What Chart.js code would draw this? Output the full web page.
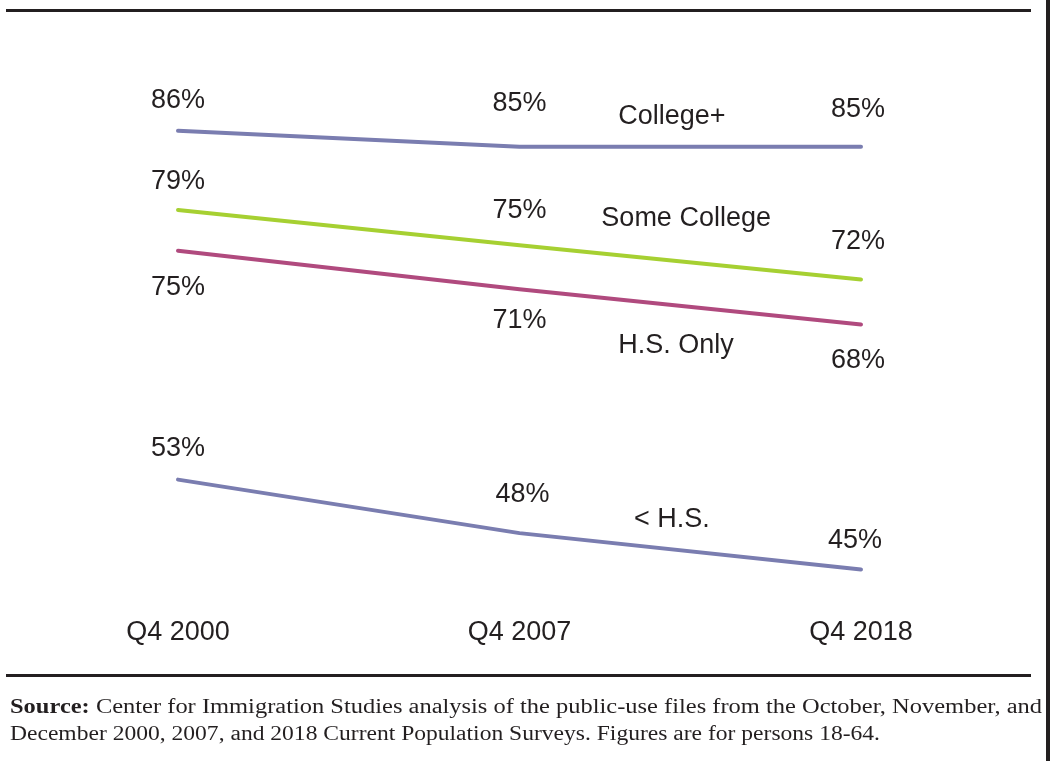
<!DOCTYPE html>
<html>
<head>
<meta charset="utf-8">
<script src="https://cdn.jsdelivr.net/npm/chart.js@4.4.1/dist/chart.umd.min.js"></script>
<style>
  html, body { margin: 0; padding: 0; background: #ffffff; }
  body { width: 1053px; height: 761px; position: relative; overflow: hidden; }
  #wrap { position: absolute; left: 0; top: 0; width: 1053px; height: 761px; }
  .rule { position: absolute; background: #231f20; }
  .src { position: absolute; left: 10px; font-family: "Liberation Serif", "DejaVu Serif", serif;
         font-size: 20px; line-height: 24px; color: #231f20; white-space: nowrap; transform-origin: 0 0; }
  .src b { font-weight: bold; }
</style>
</head>
<body>
<div id="wrap"><canvas id="c"></canvas></div>
<div class="rule" style="left:6px; top:9px; width:1025px; height:3px;"></div>
<div class="rule" style="left:6px; top:674px; width:1025px; height:3px;"></div>
<div class="rule" style="left:1046px; top:0px; width:4px; height:761px;"></div>
<div class="src" id="s1" style="top:694px;"><b>Source:</b> Center for Immigration Studies analysis of the public-use files from the October, November, and</div>
<div class="src" id="s2" style="top:721px;">December 2000, 2007, and 2018 Current Population Surveys. Figures are for persons 18-64.</div>
<script>
// ---- data ----
const categories = ["Q4 2000", "Q4 2007", "Q4 2018"];
const seriesNames = ["College+", "Some College", "H.S. Only", "< H.S."];
const collegePlus = [86.0, 84.5, 84.5];
const someCollege = [78.6, 75.3, 72.1];
const hsOnly = [74.8, 71.2, 67.9];
const lessHS = [53.4, 48.4, 45.0];
const collegePlusLabels = ["86%", "85%", "85%"];
const someCollegeLabels = ["79%", "75%", "72%"];
const hsOnlyLabels = ["75%", "71%", "68%"];
const lessHSLabels = ["53%", "48%", "45%"];

// ---- layout / styling (not data) ----
const colors = ["#7a7db0", "#a6d032", "#b04a7e", "#7a7db0"];
// value label offsets in pixels from each point: [dx, dy]
const labelOffsets = [
  [[0, -32], [0, -45], [-3, -39]],
  [[0, -30], [0, -37], [-3, -40]],
  [[0, 35], [0, 29], [-3, 34]],
  [[0, -33], [3, -41], [-6, -31]]
];
// series name anchor: [fraction along x axis, y value]
const nameAnchors = [[0.723, 87.5], [0.744, 78.0], [0.729, 66.1], [0.723, 49.9]];
const FONT = '27px "Liberation Sans", Arial, Helvetica, sans-serif';
const TEXT = "#231f20";
const TEXT_DY = 2;

const seriesValues = [collegePlus, someCollege, hsOnly, lessHS];
const seriesLabels = [collegePlusLabels, someCollegeLabels, hsOnlyLabels, lessHSLabels];

const textPlugin = {
  id: "textPlugin",
  afterDatasetsDraw(chart) {
    const ctx = chart.ctx;
    const xs = chart.scales.x, ys = chart.scales.y;
    ctx.save();
    ctx.font = FONT;
    ctx.fillStyle = TEXT;
    ctx.textAlign = "center";
    ctx.textBaseline = "middle";
    seriesValues.forEach((vals, si) => {
      vals.forEach((v, i) => {
        const px = xs.getPixelForValue(i), py = ys.getPixelForValue(v);
        const off = labelOffsets[si][i];
        ctx.fillText(seriesLabels[si][i], px + off[0], py + off[1] + TEXT_DY);
      });
      const a = nameAnchors[si];
      const nx = xs.left + a[0] * (xs.right - xs.left);
      ctx.fillText(seriesNames[si], nx, ys.getPixelForValue(a[1]) + TEXT_DY);
    });
    categories.forEach((c, i) => {
      ctx.fillText(c, xs.getPixelForValue(i), 631 + TEXT_DY);
    });
    ctx.restore();
  }
};

new Chart(document.getElementById("c"), {
  type: "line",
  data: {
    labels: categories,
    datasets: seriesValues.map((vals, si) => ({
      label: seriesNames[si],
      data: vals,
      borderColor: colors[si],
      backgroundColor: colors[si],
      borderWidth: 4,
      borderCapStyle: "round",
      borderJoinStyle: "round",
      pointRadius: 0,
      tension: 0,
      clip: false
    }))
  },
  options: {
    responsive: true,
    maintainAspectRatio: false,
    animation: false,
    layout: { padding: { left: 178, right: 192, top: 88, bottom: 138 } },
    plugins: { legend: { display: false }, tooltip: { enabled: false } },
    scales: {
      x: { type: "category", display: false, offset: false },
      y: { type: "linear", display: false, min: 40, max: 90 }
    }
  },
  plugins: [textPlugin]
});

// fit the source lines to the reference widths
(function () {
  const s1 = document.getElementById("s1"), s2 = document.getElementById("s2");
  const w2 = s2.getBoundingClientRect().width;
  s2.style.transform = "scaleX(" + (870 / w2) + ")";
  const w1 = s1.getBoundingClientRect().width;
  s1.style.transform = "scaleX(" + (1032 / w1) + ")";
})();
</script>
</body>
</html>
